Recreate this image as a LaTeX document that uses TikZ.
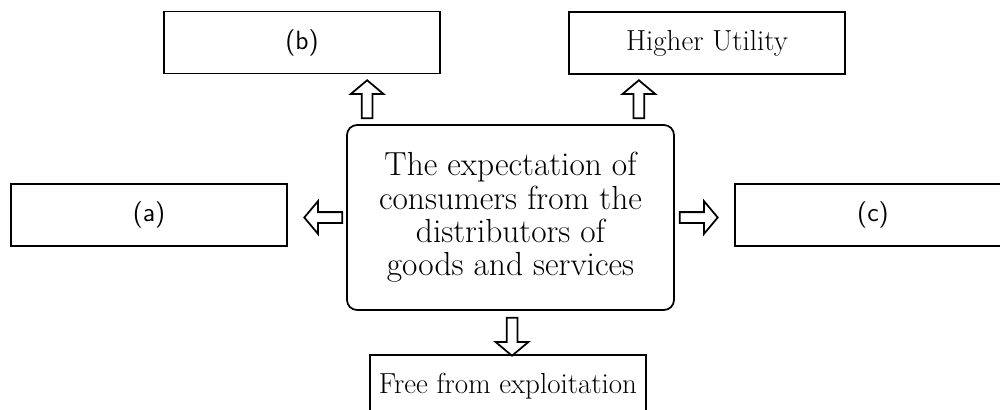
\documentclass[tikz,border=0pt]{standalone}
\usetikzlibrary{shapes.arrows}

\tikzset{
  caixa/.style={draw, line width=1pt, minimum width=5.52cm, minimum height=1.24cm,
                inner sep=0pt, font=\fontsize{16.5}{18}\selectfont},
  letra/.style={caixa, font=\sffamily\fontsize{15}{17}\selectfont},
  central/.style={draw, line width=1pt, rounded corners=0.2cm,
                  minimum width=6.54cm, minimum height=3.7cm, align=center,
                  font=\fontsize{19}{19}\selectfont},
  setaoca/.style={single arrow, draw, line width=1pt, inner xsep=0pt, inner ysep=0.09cm,
                  minimum width=0pt, minimum height=0.76cm,
                  single arrow head extend=0.22cm, single arrow tip angle=100}
}

\begin{document}
\begin{tikzpicture}[x=0.02cm, y=-0.02cm]

  \useasboundingbox (0,0) rectangle (1000,409);
  \clip (0,0) rectangle (1000,409);

  %% caixa central
  \node[central] (ctr) at (510.5, 217.5)
       {The expectation of\\ consumers from the\\ distributors of\\ goods and services};

  %% caixas de fora
  \node[letra] (b)    at (302, 42.5) {(b)};
  \node[caixa] (util) at (707, 43)   {Higher Utility};
  \node[letra] (a)    at (149, 215)  {(a)};
  \node[letra] (c)    at (873, 215)  {(c)};
  \node[caixa] (expl) at (508, 386)  {Free from exploitation};

  %% setas ocas
  \node[setaoca, rotate=90,  anchor=tail] (sb) at ([xshift=0.42cm, yshift=0.1cm]ctr.north west) {};
  \node[setaoca, rotate=90,  anchor=tail] (su) at ([xshift=-0.72cm, yshift=0.1cm]ctr.north east) {};
  \node[setaoca, rotate=180, anchor=tail] (sa) at ([xshift=-0.06cm]ctr.west) {};
  \node[setaoca, anchor=tail]             (sc) at ([xshift=0.08cm]ctr.east) {};
  \node[setaoca, rotate=-90, anchor=tail] (se) at ([xshift=0.03cm, yshift=-0.12cm]ctr.south) {};

\end{tikzpicture}
\end{document}
